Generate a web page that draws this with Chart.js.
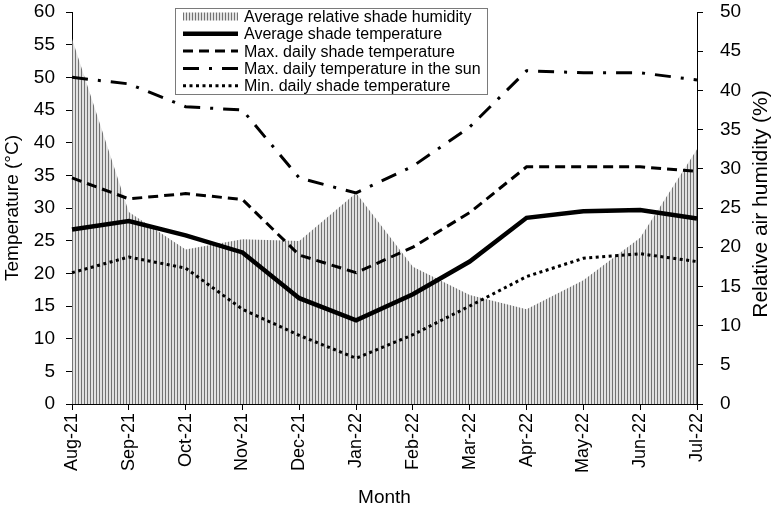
<!DOCTYPE html>
<html lang="en">
<head>
    <meta charset="UTF-8">
    <title>Temperature and humidity</title>
    <script src="https://cdn.jsdelivr.net/npm/chart.js"></script>
    <style>
        body { margin: 0; background: #fff; }
        canvas { display: block; }
    </style>
</head>
<body>
<canvas id="climateChart" width="774" height="512"></canvas>

<script>
    const months = ["Aug-21", "Sep-21", "Oct-21", "Nov-21", "Dec-21", "Jan-22",
                    "Feb-22", "Mar-22", "Apr-22", "May-22", "Jun-22", "Jul-22"];
    const humidity = [46.6, 24.5, 19.7, 21.0, 20.8, 26.9, 17.5, 13.9, 12.1, 15.8, 21.2, 32.5];
    const avgShade = [26.7, 28.0, 25.8, 23.2, 16.2, 12.8, 16.8, 21.8, 28.5, 29.5, 29.7, 28.4];
    const maxShade = [34.6, 31.4, 32.2, 31.3, 22.8, 20.1, 24.0, 29.3, 36.3, 36.3, 36.3, 35.6];
    const maxSun = [50.0, 49.0, 45.5, 45.0, 34.6, 32.3, 36.4, 42.4, 51.0, 50.7, 50.7, 49.6];
    const minShade = [20.1, 22.5, 20.8, 14.5, 10.5, 7.0, 10.6, 15.0, 19.5, 22.3, 23.0, 21.8];

    // vertical stripe fill, like the old excel column hatch
    const pc = document.createElement('canvas');
    pc.width = 3; pc.height = 4;
    const pctx = pc.getContext('2d');
    pctx.fillStyle = '#e2e2e2';
    pctx.fillRect(0, 0, 3, 4);
    pctx.fillStyle = '#737373';
    pctx.fillRect(0, 0, 1, 4);
    const stripes = pctx.createPattern(pc, 'repeat');

    const ctx = document.getElementById('climateChart').getContext('2d');
    const FONT = "'Liberation Sans', Arial, sans-serif";

    const lineDs = (label, data, width, dash) => ({
        type: 'line', label: label, data: data, yAxisID: 'y',
        borderColor: '#000', borderWidth: width, borderDash: dash,
        pointRadius: 0, fill: false, tension: 0, order: 0
    });

    const legendBox = {
        id: 'legendBox',
        afterDraw(chart) {
            const c = chart.ctx;
            c.save();
            c.strokeStyle = '#7a7a7a';
            c.lineWidth = 1;
            c.fillStyle = '#fff';
            c.fillRect(175.5, 8.5, 312, 86);
            c.strokeRect(175.5, 8.5, 312, 86);
            c.font = '16px ' + FONT;
            c.textBaseline = 'middle';
            const order = [4, 0, 1, 2, 3];
            order.forEach((di, i) => {
                const ds = chart.data.datasets[di];
                const y = 16.5 + i * 17.3;
                if (di === 4) {
                    c.fillStyle = stripes;
                    c.fillRect(183, y - 4, 55, 8);
                } else {
                    c.strokeStyle = '#000';
                    c.lineWidth = ds.borderWidth;
                    c.setLineDash(ds.borderDash || []);
                    c.beginPath();
                    c.moveTo(183, y);
                    c.lineTo(238, y);
                    c.stroke();
                    c.setLineDash([]);
                }
                c.fillStyle = '#000';
                c.fillText(ds.label, 244, y + 1);
            });
            // right axis title reads bottom to top
            c.translate(761, 204);
            c.rotate(-Math.PI / 2);
            c.textAlign = 'center';
            c.font = '21px ' + FONT;
            c.fillText('Relative air humidity (%)', 0, 0);
            c.restore();
        }
    };

    const tickFont = { family: FONT, size: 19 };

    const chart = new Chart(ctx, {
        data: {
            labels: months,
            datasets: [
                lineDs('Average shade temperature', avgShade, 4.5, []),
                lineDs('Max. daily shade temperature', maxShade, 3, [10, 6]),
                lineDs('Max. daily temperature in the sun', maxSun, 3, [16, 10, 3, 10]),
                lineDs('Min. daily shade temperature', minShade, 3, [3, 3.5]),
                {
                    type: 'line', label: 'Average relative shade humidity',
                    data: humidity, yAxisID: 'y1',
                    backgroundColor: stripes, borderWidth: 0, borderColor: 'rgba(0,0,0,0)',
                    pointRadius: 0, fill: 'origin', tension: 0, order: 1
                }
            ]
        },
        options: {
            responsive: false,
            animation: false,
            devicePixelRatio: 1,
            layout: { padding: { top: 12, left: 0, right: 0, bottom: 0 } },
            plugins: {
                legend: { display: false },
                tooltip: { enabled: false }
            },
            scales: {
                x: {
                    type: 'category',
                    offset: false,
                    grid: { drawOnChartArea: false, drawTicks: true, tickLength: 6, color: '#000' },
                    border: { display: true, color: '#000' },
                    ticks: { autoSkip: false, minRotation: 90, maxRotation: 90, padding: 3,
                             color: '#000', font: { family: FONT, size: 18 } },
                    title: { display: true, text: 'Month', color: '#000',
                             font: { family: FONT, size: 19 }, padding: { top: 0, bottom: 3 } },
                    afterFit: (s) => { s.height = 108; }
                },
                y: {
                    position: 'left',
                    min: 0, max: 60,
                    grid: { drawOnChartArea: false, drawTicks: true, tickLength: 6, color: '#000' },
                    border: { display: true, color: '#000' },
                    ticks: { stepSize: 5, padding: 11, color: '#000', font: tickFont },
                    title: { display: true, text: 'Temperature (°C)', color: '#000',
                             font: { family: FONT, size: 19 }, padding: { top: 1, bottom: 0 } },
                    afterFit: (s) => { s.width = 72; s.paddingTop = 0; s.paddingBottom = 0; }
                },
                y1: {
                    position: 'right',
                    min: 0, max: 50,
                    grid: { drawOnChartArea: false, drawTicks: true, tickLength: 6, color: '#000' },
                    border: { display: true, color: '#000' },
                    ticks: { stepSize: 5, padding: 17, color: '#000', font: tickFont },
                    afterFit: (s) => { s.width = 77; s.paddingTop = 0; s.paddingBottom = 0; }
                }
            }
        },
        plugins: [legendBox]
    });
</script>
</body>
</html>
